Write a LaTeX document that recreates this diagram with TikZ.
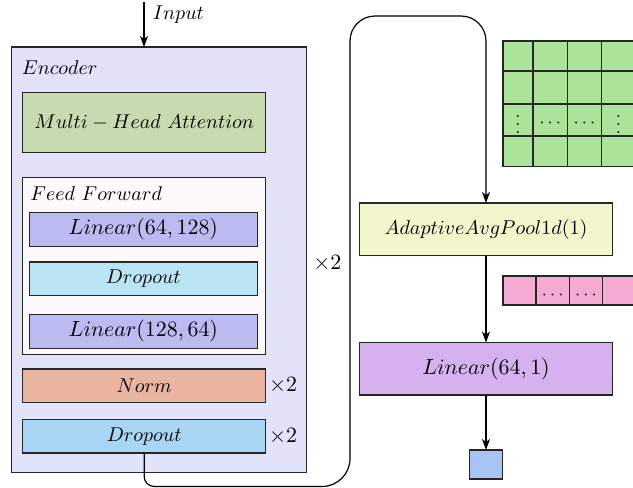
\documentclass[tikz,border=0pt]{standalone}
\usetikzlibrary{arrows.meta}
\definecolor{encfill}{RGB}{226,226,248}
\definecolor{mhafill}{RGB}{200,218,176}
\definecolor{fffill}{RGB}{254,249,251}
\definecolor{linfill}{RGB}{187,187,242}
\definecolor{dropfill}{RGB}{187,229,245}
\definecolor{normfill}{RGB}{234,181,160}
\definecolor{dropbfill}{RGB}{168,213,243}
\definecolor{poolfill}{RGB}{242,246,204}
\definecolor{headfill}{RGB}{213,177,240}
\definecolor{gridfill}{RGB}{171,227,154}
\definecolor{vecfill}{RGB}{245,170,210}
\definecolor{outfill}{RGB}{168,196,245}
\tikzset{
  blk/.style={draw=black!85, line width=0.6pt, inner sep=0pt, outer sep=0pt},
  numtext/.style={font=\fontsize{10.6}{13}\selectfont},
  cell/.style={draw=black!85, line width=0.6pt},
  conn/.style={line width=0.6pt, -{Stealth[length=5.5pt,width=4pt,inset=1.5pt]}},
  lab/.style={anchor=west, inner sep=0pt},
  dots/.style={font=\small, inner sep=0pt},
}
\begin{document}
\begin{tikzpicture}[x=0.5pt,y=-0.5pt]
\useasboundingbox (0,0) rectangle (633,488);

% encoder block
\node[blk, fill=encfill, minimum width=147.5pt, minimum height=212.7pt] (enc) at (159.2,259.7) {};
\node[lab] (enclab) at (21.5,68) {$Encoder$};
\node[blk, fill=mhafill, minimum width=121.5pt, minimum height=29.8pt, font=\fontsize{9.9}{12}\selectfont] (mha) at (144.2,122.5) {$Multi-Head\ Attention$};
\node[blk, fill=fffill, minimum width=121.5pt, minimum height=88.5pt] (ff) at (144.2,265.8) {};
\node[lab] (fflab) at (30,194) {$Feed\ Forward$};
\node[blk, numtext, fill=linfill, minimum width=114pt, minimum height=16.8pt] (lin1) at (143.3,229.5) {$Linear(64,128)$};
\node[blk, fill=dropfill, minimum width=114pt, minimum height=16.8pt] (drop1) at (143.3,278.8) {$Dropout$};
\node[blk, numtext, fill=linfill, minimum width=114pt, minimum height=16.8pt] (lin2) at (143.3,331.3) {$Linear(128,64)$};
\node[blk, fill=normfill, minimum width=121.5pt, minimum height=16.7pt] (norm) at (144.2,385.7) {$Norm$};
\node[blk, fill=dropbfill, minimum width=121.5pt, minimum height=16.8pt] (drop2) at (144.2,436.2) {$Dropout$};
\node[numtext, anchor=west, inner sep=1.5pt] (xnorm) at (norm.east) {$\times 2$};
\node[numtext, anchor=west, inner sep=1.5pt] (xdrop) at (drop2.east) {$\times 2$};

% input
\coordinate (in) at (144,2);
\draw[conn] (in) -- (in |- enc.north);
\node[lab] (inlab) at (152.5,15) {$Input$};

% head
\node[blk, fill=poolfill, minimum width=126.7pt, minimum height=26.3pt] (pool) at (486,229.3) {$AdaptiveAvgPool1d(1)$};
\node[blk, numtext, fill=headfill, minimum width=126.7pt, minimum height=26.2pt] (lin3) at (486,368.8) {$Linear(64,1)$};
\node[blk, fill=outfill, minimum width=16.5pt, minimum height=14.5pt] (out) at (486,464.5) {};
\draw[conn] (pool) -- (lin3);
\draw[conn] (lin3) -- (out);

% loop from the encoder output into the pooling layer
\draw[conn] (drop2.south) [rounded corners=5pt] -- (144.2,486.5)
  [rounded corners=14pt] -- (350,486.5) [rounded corners=12.5pt] -- (350,16) -- (486,16) -- (pool.north);
\node[lab, numtext] (xloop) at (313,263) {$\times 2$};

% feature map and pooled vector
\begin{scope}
\clip (0,0) rectangle (633,488);
\foreach \ya/\yb in {41/71,71/104,104/136,136/166.5}{
  \foreach \xa/\xb in {503/533,533/567.5,567.5/601.5,601.5/636}{
    \draw[cell, fill=gridfill] (\xa,\ya) rectangle (\xb,\yb);
  }
}
\node[dots] (g1) at (518,118.5) {$\vdots$};
\node[dots] (g2) at (550.2,123.5) {$\cdots$};
\node[dots] (g3) at (584.5,123.5) {$\cdots$};
\node[dots] (g4) at (618.5,118.5) {$\vdots$};
\foreach \xa/\xb in {503/536,536/569.5,569.5/602.5,602.5/636}{
  \draw[cell, fill=vecfill] (\xa,276) rectangle (\xb,305);
}
\node[dots] (v2) at (552.7,295) {$\cdots$};
\node[dots] (v3) at (586,295) {$\cdots$};
\end{scope}
\end{tikzpicture}
\end{document}
